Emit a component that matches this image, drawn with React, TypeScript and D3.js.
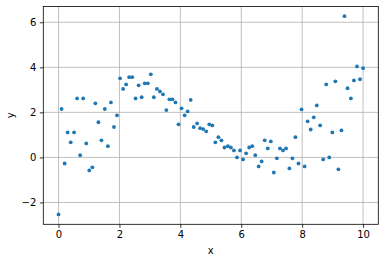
import React, { useEffect, useRef } from "react";
import * as d3 from "d3";

const xValues = [
  0.0, 0.1, 0.2, 0.3, 0.4, 0.51, 0.61, 0.71, 0.81, 0.91,
  1.01, 1.11, 1.21, 1.31, 1.41, 1.52, 1.62, 1.72, 1.82, 1.92,
  2.02, 2.12, 2.22, 2.32, 2.42, 2.53, 2.63, 2.73, 2.83, 2.93,
  3.03, 3.13, 3.23, 3.33, 3.43, 3.54, 3.64, 3.74, 3.84, 3.94,
  4.04, 4.14, 4.24, 4.34, 4.44, 4.55, 4.65, 4.75, 4.85, 4.95,
  5.05, 5.15, 5.25, 5.35, 5.45, 5.56, 5.66, 5.76, 5.86, 5.96,
  6.06, 6.16, 6.26, 6.36, 6.46, 6.57, 6.67, 6.77, 6.87, 6.97,
  7.07, 7.17, 7.27, 7.37, 7.47, 7.58, 7.68, 7.78, 7.88, 7.98,
  8.08, 8.18, 8.28, 8.38, 8.48, 8.59, 8.69, 8.79, 8.89, 8.99,
  9.09, 9.19, 9.29, 9.39, 9.49, 9.6, 9.7, 9.8, 9.9, 10.0,
];

const yValues = [
  -2.53, 2.15, -0.27, 1.11, 0.67, 1.11, 2.62, 0.1, 2.62, 0.62,
  -0.58, -0.44, 2.4, 1.56, 0.76, 2.15, 0.5, 2.44, 1.35, 1.87,
  3.51, 3.04, 3.24, 3.56, 3.56, 2.62, 3.2, 2.67, 3.29, 3.29,
  3.69, 2.67, 3.04, 2.93, 2.8, 2.1, 2.58, 2.58, 2.44, 1.47,
  2.18, 1.87, 2.04, 2.55, 1.35, 1.51, 1.3, 1.26, 1.16, 1.47,
  1.42, 0.67, 0.9, 0.76, 0.44, 0.5, 0.44, 0.31, 0.0, 0.31,
  -0.09, 0.18, 0.44, 0.5, 0.1, -0.4, -0.18, 0.76, 0.4, 0.71,
  -0.67, -0.04, 0.4, 0.31, 0.4, -0.49, -0.04, 0.9, -0.27, 2.13,
  -0.4, 1.6, 1.24, 1.78, 2.31, 1.42, -0.09, 3.24, 0.0, 1.11,
  3.38, -0.53, 1.2, 6.27, 3.07, 2.62, 3.42, 4.04, 3.47, 3.96,
];

const xTicks = [0, 2, 4, 6, 8, 10];
const yTicks = [-2, 0, 2, 4, 6];
const xLabel = "x";
const yLabel = "y";

const W = 384;
const H = 262;
const margin = { left: 43.3, right: 384 - 378.3, top: 6.5, bottom: 262 - 224.3 };
const FONT = "DejaVu Sans, sans-serif";

export default function App() {
  const ref = useRef<SVGSVGElement>(null);

  useEffect(() => {
    document.body.style.margin = "0";
    const svg = d3.select(ref.current);
    svg.selectAll("*").remove();

    const x = d3.scaleLinear().domain([-0.5, 10.5]).range([margin.left, W - margin.right]);
    const y = d3.scaleLinear().domain([-2.97, 6.7]).range([H - margin.bottom, margin.top]);

    svg.append("rect").attr("width", W).attr("height", H).attr("fill", "#fff");

    const grid = svg.append("g");
    grid.selectAll("line.gx").data(xTicks).enter().append("line")
      .attr("x1", (d) => x(d)).attr("x2", (d) => x(d))
      .attr("y1", margin.top).attr("y2", H - margin.bottom)
      .attr("stroke", "#b0b0b0").attr("stroke-width", 0.8);
    grid.selectAll("line.gy").data(yTicks).enter().append("line")
      .attr("y1", (d) => y(d)).attr("y2", (d) => y(d))
      .attr("x1", margin.left).attr("x2", W - margin.right)
      .attr("stroke", "#b0b0b0").attr("stroke-width", 0.8);

    svg.append("g").selectAll("circle").data(xValues).enter().append("circle")
      .attr("cx", (d) => x(d))
      .attr("cy", (_d, i) => y(yValues[i]))
      .attr("r", 1.9)
      .attr("fill", "#1f77b4");

    const fmt = (d: number) => (d < 0 ? "\u2212" + Math.abs(d) : String(d));

    const xAxis = d3.axisBottom(x).tickValues(xTicks).tickSize(3.5).tickPadding(3.5).tickFormat((d) => fmt(d as number));
    const gx = svg.append("g").attr("transform", `translate(0,${H - margin.bottom})`).call(xAxis);
    const yAxis = d3.axisLeft(y).tickValues(yTicks).tickSize(3.5).tickPadding(3.5).tickFormat((d) => fmt(d as number));
    const gy = svg.append("g").attr("transform", `translate(${margin.left},0)`).call(yAxis);
    [gx, gy].forEach((g) => {
      g.select(".domain").remove();
      g.selectAll("line").attr("stroke", "#000").attr("stroke-width", 0.8);
      g.selectAll("text").attr("font-family", FONT).attr("font-size", 10).attr("fill", "#000");
    });

    svg.append("rect")
      .attr("x", margin.left).attr("y", margin.top)
      .attr("width", W - margin.left - margin.right)
      .attr("height", H - margin.top - margin.bottom)
      .attr("fill", "none").attr("stroke", "#000").attr("stroke-width", 0.8);

    svg.append("text").attr("x", (margin.left + W - margin.right) / 2).attr("y", 254)
      .attr("text-anchor", "middle").attr("font-family", FONT).attr("font-size", 10).text(xLabel);
    svg.append("text").attr("transform", `translate(14,${(margin.top + H - margin.bottom) / 2}) rotate(-90)`)
      .attr("text-anchor", "middle").attr("font-family", FONT).attr("font-size", 10).text(yLabel);
  }, []);

  return <svg ref={ref} width={W} height={H} style={{ display: "block" }} />;
}
